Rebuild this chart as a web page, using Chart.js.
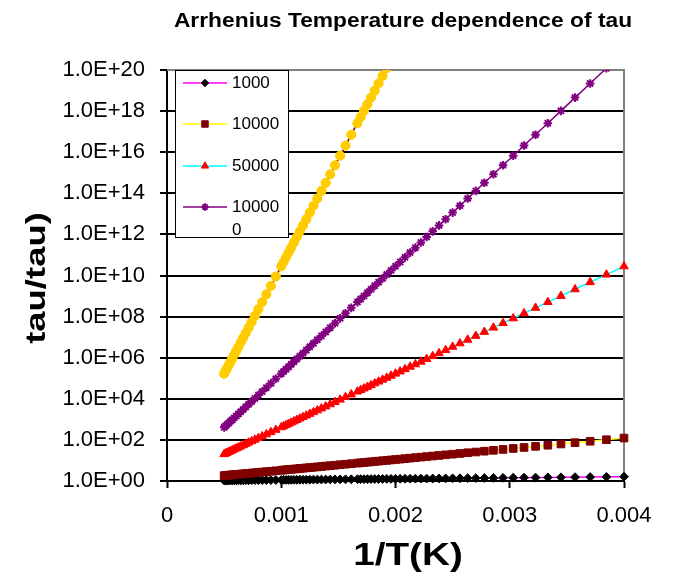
<!DOCTYPE html>
<html>
<head>
<meta charset="utf-8">
<script src="https://cdn.jsdelivr.net/npm/chart.js@4.4.1/dist/chart.umd.min.js"></script>
<style>
html,body{margin:0;padding:0;background:#ffffff;}
canvas{display:block;}
</style>
</head>
<body>
<canvas id="c" width="675" height="580"></canvas>
<script>
// ---------- DATA ----------
// x = 1/T (1/K), temperatures 250 K ... 2000 K
const invT = [
  0.004, 0.0038462, 0.0037037, 0.0035714, 0.0034483, 0.0033333, 0.0032258, 0.003125, 0.0030303, 0.0029412,
  0.0028571, 0.0027778, 0.0027027, 0.0026316, 0.0025641, 0.0025, 0.002439, 0.002381, 0.0023256, 0.0022727,
  0.0022222, 0.0021739, 0.0021277, 0.0020833, 0.0020408, 0.002, 0.0019608, 0.0019231, 0.0018868, 0.0018519,
  0.0018182, 0.0017857, 0.0017544, 0.0017241, 0.0016949, 0.0016667,
  0.0016129, 0.0015625, 0.0015152, 0.0014706, 0.0014286, 0.0013889, 0.0013514, 0.0013158, 0.0012821, 0.00125,
  0.0012195, 0.0011905, 0.0011628, 0.0011364, 0.0011111, 0.001087, 0.0010638, 0.0010417, 0.0010204, 0.001,
  0.00095238, 0.00090909, 0.00086957, 0.00083333, 0.0008, 0.00076923, 0.00074074, 0.00071429, 0.00068966, 0.00066667,
  0.00064516, 0.000625, 0.00060606, 0.00058824, 0.00057143, 0.00055556, 0.00054054, 0.00052632, 0.00051282, 0.0005
];

const tau1000 = [
  1.618, 1.588, 1.561, 1.537, 1.514, 1.494, 1.474, 1.457, 1.440, 1.425,
  1.411, 1.397, 1.385, 1.373, 1.362, 1.351, 1.341, 1.332, 1.323, 1.315,
  1.306, 1.299, 1.292, 1.285, 1.278, 1.272, 1.266, 1.260, 1.255, 1.250,
  1.245, 1.240, 1.235, 1.231, 1.226, 1.222,
  1.214, 1.207, 1.200, 1.194, 1.187, 1.182, 1.177, 1.171, 1.167, 1.162,
  1.158, 1.154, 1.150, 1.146, 1.143, 1.140, 1.136, 1.133, 1.131, 1.128,
  1.121, 1.115, 1.110, 1.105, 1.101, 1.097, 1.093, 1.089, 1.086, 1.083,
  1.080, 1.078, 1.075, 1.073, 1.071, 1.069, 1.067, 1.065, 1.063, 1.062
];

const tau10000 = [
  122.9, 102.1, 86.05, 73.4, 63.3, 55.1, 48.4, 42.9, 38.3, 34.4,
  31.1, 28.2, 25.8, 23.7, 21.85, 20.2, 18.8, 17.5, 16.4, 15.4,
  14.5, 13.7, 12.9, 12.25, 11.6, 11.1, 10.57, 10.1, 9.67, 9.28,
  8.91, 8.57, 8.25, 7.95, 7.68, 7.42,
  6.96, 6.55, 6.19, 5.86, 5.57, 5.32, 5.08, 4.87, 4.67, 4.50,
  4.34, 4.19, 4.05, 3.92, 3.81, 3.70, 3.59, 3.50, 3.41, 3.33,
  3.14, 2.98, 2.85, 2.72, 2.62, 2.52, 2.44, 2.36, 2.29, 2.23,
  2.17, 2.12, 2.07, 2.03, 1.99, 1.95, 1.92, 1.88, 1.85, 1.82
];

const tau50000 = [
  2.80e10, 1.11e10, 4.72e9, 2.13e9, 1.01e9, 5.08e8, 2.66e8, 1.45e8, 8.22e7, 4.81e7,
  2.90e7, 1.80e7, 1.15e7, 7.47e6, 4.98e6, 3.39e6, 2.35e6, 1.65e6, 1.19e6, 8.63e5,
  6.37e5, 4.76e5, 3.61e5, 2.76e5, 2.14e5, 1.67e5, 1.32e5, 1.05e5, 8.47e4, 6.87e4,
  5.61e4, 4.61e4, 3.82e4, 3.19e4, 2.67e4, 2.25e4,
  1.63e4, 1.21e4, 9.07e3, 6.93e3, 5.39e3, 4.24e3, 3.38e3, 2.73e3, 2.23e3, 1.84e3,
  1.53e3, 1.29e3, 1.09e3, 929, 798, 690, 600, 526, 463, 409,
  307, 237, 187, 150, 123, 102, 86.0, 73.4, 63.3, 55.1,
  48.4, 42.9, 38.3, 34.4, 31.1, 28.2, 25.8, 23.7, 21.85, 20.2
];

const tau100000 = [
  7.85e20, 1.23e20, 2.22e19, 4.53e18, 1.03e18, 2.58e17, 7.09e16, 2.11e16, 6.75e15, 2.31e15,
  8.41e14, 3.24e14, 1.31e14, 5.58e13, 2.48e13, 1.15e13, 5.50e12, 2.74e12, 1.41e12, 7.45e11,
  4.06e11, 2.27e11, 1.30e11, 7.63e10, 4.58e10, 2.80e10, 1.75e10, 1.11e10, 7.18e9, 4.72e9,
  3.14e9, 2.13e9, 1.46e9, 1.01e9, 7.14e8, 5.08e8,
  2.66e8, 1.45e8, 8.22e7, 4.81e7, 2.90e7, 1.80e7, 1.15e7, 7.47e6, 4.98e6, 3.39e6,
  2.35e6, 1.65e6, 1.19e6, 8.63e5, 6.37e5, 4.76e5, 3.61e5, 2.76e5, 2.14e5, 1.67e5,
  9.44e4, 5.61e4, 3.49e4, 2.25e4, 1.51e4, 1.04e4, 7.40e3, 5.39e3, 4.00e3, 3.04e3,
  2.35e3, 1.84e3, 1.47e3, 1.18e3, 966, 798, 666, 561, 477, 409
];

const tau200000 = [
  6.16e41, 1.52e40, 4.94e38, 2.05e37, 1.06e36, 6.67e34, 5.03e33, 4.45e32, 4.56e31, 5.34e30,
  7.08e29, 1.05e29, 1.72e28, 3.11e27, 6.14e26, 1.31e26, 3.03e25, 7.50e24, 1.98e24, 5.55e23,
  1.65e23, 5.15e22, 1.69e22, 5.83e21, 2.10e21, 7.85e20, 3.05e20, 1.23e20, 5.15e19, 2.22e19,
  9.89e18, 4.53e18, 2.13e18, 1.03e18, 5.10e17, 2.58e17,
  7.09e16, 2.11e16, 6.75e15, 2.31e15, 8.41e14, 3.24e14, 1.31e14, 5.58e13, 2.48e13, 1.15e13,
  5.50e12, 2.74e12, 1.41e12, 7.45e11, 4.06e11, 2.27e11, 1.30e11, 7.63e10, 4.58e10, 2.80e10,
  8.91e9, 3.14e9, 1.22e9, 5.08e8, 2.28e8, 1.09e8, 5.48e7, 2.90e7, 1.60e7, 9.22e6,
  5.50e6, 3.39e6, 2.15e6, 1.40e6, 9.33e5, 6.37e5, 4.44e5, 3.15e5, 2.28e5, 1.67e5
];

const seriesNames = ['1000', '10000', '50000', '100000', '200000'];
const seriesValues = [tau1000, tau10000, tau50000, tau100000, tau200000];
const legendLines = [['1000'], ['10000'], ['50000'], ['10000', '0']];

const xTickValues = [0, 0.001, 0.002, 0.003, 0.004];
const yTickValues = [1e0, 1e2, 1e4, 1e6, 1e8, 1e10, 1e12, 1e14, 1e16, 1e18, 1e20];

const chartTitle = 'Arrhenius Temperature dependence of tau';
const xTitle = '1/T(K)';
const yTitle = 'tau/tau)';

// ---------- STYLE ----------
const FONT = "'Liberation Sans', Arial, Helvetica, sans-serif";
const seriesStyles = [
  { line: '#FF00FF', fill: '#000000', stroke: '#000000', shape: 'rectRot',  r: 4.4, bw: 1 },
  { line: '#FFFF00', fill: '#800000', stroke: '#800000', shape: 'rect',     r: 5.4, bw: 1 },
  { line: '#00FFFF', fill: '#FF0000', stroke: '#FF0000', shape: 'triangle', r: 4.9, bw: 1 },
  { line: '#800080', fill: '#800080', stroke: '#800080', shape: 'star',     r: 4.3, bw: 2 },
  { line: '#800000', fill: '#FFCC00', stroke: '#FFCC00', shape: 'circle',   r: 4.6, bw: 1 }
];

const datasets = seriesNames.map((name, i) => {
  const st = seriesStyles[i];
  return {
    label: name,
    data: invT.map((x, k) => ({ x: x, y: seriesValues[i][k] })),
    showLine: true,
    borderColor: st.line,
    borderWidth: 1.5,
    backgroundColor: st.fill,
    pointStyle: st.shape,
    pointRadius: st.r,
    pointHoverRadius: st.r,
    pointBackgroundColor: st.fill,
    pointBorderColor: st.stroke,
    pointBorderWidth: st.bw,
    tension: 0,
    order: seriesNames.length - i,
    clip: { left: 10, right: 10, bottom: 10, top: 0 }
  };
});

function stretchedText(ctx, text, x, y, font, sx, rot) {
  ctx.save();
  ctx.translate(x, y);
  if (rot) ctx.rotate(rot);
  ctx.scale(sx, 1);
  ctx.font = font;
  ctx.textAlign = 'center';
  ctx.textBaseline = 'alphabetic';
  ctx.fillText(text, 0, 0);
  ctx.restore();
}

const decor = {
  id: 'decor',
  beforeDatasetsDraw(chart) {
    const { ctx, chartArea: a } = chart;
    ctx.save();
    ctx.strokeStyle = '#808080';
    ctx.lineWidth = 2;
    ctx.beginPath();
    ctx.moveTo(a.left, a.top);
    ctx.lineTo(a.right, a.top);
    ctx.lineTo(a.right, a.bottom);
    ctx.stroke();
    ctx.restore();
  },
  afterDatasetsDraw(chart) {
    const { ctx, chartArea: a } = chart;
    const bx = 175.5, by = a.top + 0.5, bw = 113, bh = 167;
    ctx.save();
    ctx.fillStyle = '#ffffff';
    ctx.fillRect(bx, by, bw, bh);
    ctx.strokeStyle = '#000000';
    ctx.lineWidth = 1;
    ctx.strokeRect(bx, by, bw, bh);
    const rows = [83, 124, 166, 207];
    ctx.font = '17px ' + FONT;
    ctx.textAlign = 'left';
    ctx.textBaseline = 'middle';
    legendLines.forEach((lines, i) => {
      const st = seriesStyles[i];
      const y = rows[i];
      ctx.strokeStyle = st.line;
      ctx.lineWidth = 1.5;
      ctx.beginPath();
      ctx.moveTo(183, y);
      ctx.lineTo(227, y);
      ctx.stroke();
      ctx.fillStyle = st.fill;
      ctx.strokeStyle = st.stroke;
      ctx.lineWidth = st.bw;
      if (Chart.helpers && Chart.helpers.drawPoint) {
        Chart.helpers.drawPoint(ctx, { pointStyle: st.shape, radius: st.r * 0.85, rotation: 0, borderWidth: st.bw }, 205, y);
      }
      ctx.fillStyle = '#000000';
      lines.forEach((t, j) => ctx.fillText(t, 232, y + j * 23));
    });
    ctx.restore();
  },
  afterDraw(chart) {
    const { ctx } = chart;
    ctx.save();
    ctx.fillStyle = '#000000';
    stretchedText(ctx, chartTitle, 403, 27, 'bold 20px ' + FONT, 1.14, 0);
    stretchedText(ctx, xTitle, 408, 565, 'bold 32px ' + FONT, 1.21, 0);
    stretchedText(ctx, yTitle, 45, 278, 'bold 27px ' + FONT, 1.35, -Math.PI / 2);
    ctx.restore();
  }
};

Chart.defaults.font.family = FONT;
Chart.defaults.color = '#000000';

new Chart(document.getElementById('c'), {
  type: 'scatter',
  data: { datasets: datasets },
  options: {
    responsive: false,
    animation: false,
    events: [],
    layout: { padding: { top: 70, right: 51, left: 0, bottom: 0 } },
    plugins: {
      legend: { display: false },
      title: { display: false },
      tooltip: { enabled: false }
    },
    scales: {
      x: {
        type: 'linear',
        min: 0,
        max: 0.004,
        afterBuildTicks: (s) => { s.ticks = xTickValues.map(v => ({ value: v })); },
        afterFit: (s) => { s.height = 99; },
        grid: { drawOnChartArea: false, drawTicks: true, tickLength: 7, tickColor: '#000000', tickWidth: 2 },
        border: { display: true, color: '#000000', width: 2 },
        ticks: {
          color: '#000000',
          font: { family: FONT, size: 22 },
          padding: 15,
          maxRotation: 0,
          autoSkip: false,
          callback: (v) => (v === 0 ? '0' : Number(v).toFixed(3))
        }
      },
      y: {
        type: 'logarithmic',
        min: 1,
        max: 1e20,
        afterBuildTicks: (s) => { s.ticks = yTickValues.map(v => ({ value: v })); },
        afterFit: (s) => { s.width = 167; },
        grid: {
          color: (c) => (c.tick && c.tick.value >= 1e20 ? '#808080' : '#000000'),
          lineWidth: 2,
          drawTicks: true,
          tickLength: 7,
          tickColor: '#000000',
          tickWidth: 2
        },
        border: { display: true, color: '#000000', width: 2 },
        ticks: {
          color: '#000000',
          font: { family: FONT, size: 22 },
          padding: 15,
          autoSkip: false,
          callback: (v) => '1.0E+' + String(Math.round(Math.log10(v))).padStart(2, '0')
        }
      }
    }
  },
  plugins: [decor]
});
</script>
</body>
</html>
